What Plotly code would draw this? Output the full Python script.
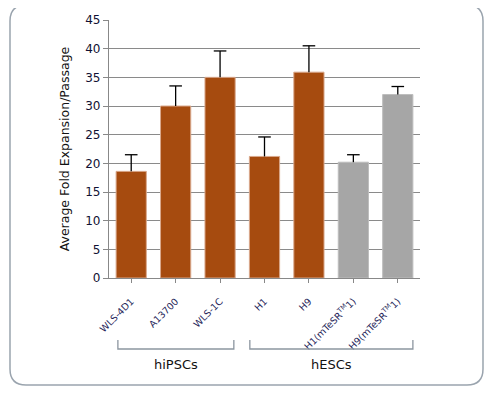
import plotly.graph_objects as go

categories = ["WLS-4D1", "A13700", "WLS-1C", "H1", "H9",
              "H1(mTeSR<sup>TM</sup>1)", "H9(mTeSR<sup>TM</sup>1)"]
values = [18.6, 30.0, 35.0, 21.2, 35.9, 20.2, 32.0]
errors = [2.9, 3.5, 4.6, 3.4, 4.6, 1.3, 1.4]
bar_colors = ["#A64B0F"] * 5 + ["#A6A6A6"] * 2
edge_colors = ["#D9A88C"] * 5 + ["#BDBDBD"] * 2
groups = ["hiPSCs", "hESCs"]
group_spans = [(-0.3, 2.31), (2.67, 6.34)]

OFF = 8  # page body margin
W, H = 493 - OFF, 395 - OFF
L, R, T, B = 109 - OFF, 420 - OFF, 20 - OFF, 278 - OFF

def px_x(p):
    return (p - OFF - L) / (R - L)

def px_y(p):
    return (B - (p - OFF)) / (B - T)

xs = list(range(len(categories)))
tops = [v + e for v, e in zip(values, errors)]

fig = go.Figure()
fig.add_trace(go.Bar(
    x=xs, y=values,
    marker=dict(color=bar_colors, line=dict(color=edge_colors, width=1)),
    width=0.68, showlegend=False, hoverinfo="skip",
))
# error whiskers (upper only, no cap at bar top)
ex, ey = [], []
for x, v, t in zip(xs, values, tops):
    ex += [x, x, None]
    ey += [v, t, None]
fig.add_trace(go.Scatter(x=ex, y=ey, mode="lines",
                         line=dict(color="black", width=1.3),
                         showlegend=False, hoverinfo="skip"))
fig.add_trace(go.Scatter(x=xs, y=tops, mode="markers",
                         marker=dict(symbol="line-ew-open", size=9, color="black",
                                     line=dict(color="black", width=1.3)),
                         showlegend=False, hoverinfo="skip"))

shapes = []
for (a, b) in group_spans:
    y1 = px_y(340)
    y2 = px_y(349)
    shapes.append(dict(type="path", xref="x", yref="paper",
                       path=f"M {a} {y1} L {a} {y2} L {b} {y2} L {b} {y1}",
                       line=dict(color="#8C96A0", width=1.3)))

# rounded border
x0, x1, yt, yb, r = 10, 483, 5, 385, 16
def P(x, y):
    return f"{px_x(x):.5f},{px_y(y):.5f}"
path = (f"M {P(x0+r, yt)} L {P(x1-r, yt)} Q {P(x1, yt)} {P(x1, yt+r)} "
        f"L {P(x1, yb-r)} Q {P(x1, yb)} {P(x1-r, yb)} "
        f"L {P(x0+r, yb)} Q {P(x0, yb)} {P(x0, yb-r)} "
        f"L {P(x0, yt+r)} Q {P(x0, yt)} {P(x0+r, yt)} Z")
shapes.append(dict(type="path", xref="paper", yref="paper", path=path,
                   line=dict(color="#9AA4AE", width=1.5), layer="below"))

annotations = []
for g, (a, b) in zip(groups, group_spans):
    annotations.append(dict(x=(a + b) / 2, y=px_y(374), xref="x", yref="paper",
                            text=g, showarrow=False,
                            font=dict(size=13, color="#111111", family="DejaVu Sans")))

fig.update_layout(
    width=W, height=H,
    margin=dict(l=L, r=W - R, t=T, b=H - B, pad=0),
    paper_bgcolor="white", plot_bgcolor="white",
    font=dict(family="DejaVu Sans", size=11, color="#1a1a40"),
    shapes=shapes, annotations=annotations,
    xaxis=dict(
        tickmode="array", tickvals=xs, ticktext=categories,
        range=[-0.5, 6.5], tickangle=-45, tickson="boundaries",
        ticks="outside", ticklen=4, tickcolor="#888888",
        showline=True, linecolor="#888888", linewidth=1.3, showgrid=False,
        automargin=False, ticklabelstandoff=9,
        tickfont=dict(size=9.5, color="#1F1F5A", family="DejaVu Sans"),
    ),
    yaxis=dict(
        range=[0, 45], dtick=5, tick0=0,
        ticks="outside", ticklen=5, tickcolor="#888888",
        showline=True, linecolor="#888888", linewidth=1.3,
        showgrid=True, gridcolor="#8A8A8A", gridwidth=1.3,
        zeroline=False, automargin=False,
        tickfont=dict(size=12, color="#111133", family="DejaVu Sans"),
        title=dict(text="Average Fold Expansion/Passage", standoff=12,
                   font=dict(size=12.5, color="#111111", family="DejaVu Sans")),
    ),
)

fig.write_html("out.html")
